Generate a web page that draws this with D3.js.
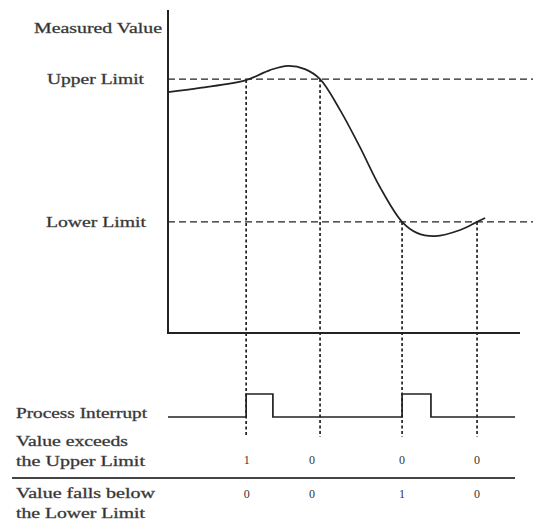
<!DOCTYPE html>
<html>
<head>
<meta charset="utf-8">
<script src="https://cdn.jsdelivr.net/npm/d3@7"></script>
<style>
  html, body { margin: 0; padding: 0; background: #fff; }
  svg { display: block; }
</style>
</head>
<body>
<svg id="chart" width="533" height="522"></svg>
<script>
// ---- data ----
const curveTime  = [0, 9.1, 22.2, 29.0, 34.1, 38.9, 43.2, 48.9, 54.5, 60.2, 66.5, 70.7, 75.9, 83.0, 87.8, 90.1];
const curveValue = [74.6, 75.9, 78.3, 81.4, 82.7, 81.7, 78.6, 69.0, 57.6, 45.2, 34.4, 31.0, 30.0, 31.9, 34.4, 35.6];

const limitNames  = ["Upper Limit", "Lower Limit"];
const limitValues = [78.6, 34.4];

const eventTimes  = [22.2, 43.2, 66.5, 87.8];
const eventValues = [78.3, 78.6, 34.4, 34.4];

const interruptTimes  = [0, 22.2, 29.8, 66.5, 74.7, 98.6];
const interruptStates = [0, 1, 0, 1, 0, 0];

const rowLabels = [["Value exceeds", "the Upper Limit"], ["Value falls below", "the Lower Limit"]];
const exceedsUpper   = [1, 0, 0, 0];
const fallsBelow     = [0, 0, 1, 0];
const valueLabelTimes = [22.4, 40.9, 66.5, 87.8];

// ---- layout ----
const svg = d3.select("#chart");
const x = d3.scaleLinear().domain([0, 100]).range([168, 520]);
const y = d3.scaleLinear().domain([0, 100]).range([333, 10]);
const sig = d3.scaleLinear().domain([0, 1]).range([417, 394]);
const ink = "#222";
const serif = "'Liberation Serif', 'Times New Roman', 'DejaVu Serif', serif";

function label(txt, px, py, size, len, anchor) {
  const t = svg.append("text")
    .attr("x", px).attr("y", py)
    .attr("font-family", serif)
    .attr("font-size", size)
    .attr("fill", "#2a2a2a")
    .attr("stroke", "#555").attr("stroke-width", 0.35)
    .attr("text-anchor", anchor || "start")
    .text(txt);
  if (len) t.attr("textLength", len).attr("lengthAdjust", "spacingAndGlyphs");
  return t;
}

// limit dashed lines
svg.selectAll("line.limit").data(limitValues).enter().append("line")
  .attr("x1", x(0)).attr("x2", x(104))
  .attr("y1", d => y(d)).attr("y2", d => y(d))
  .attr("stroke", ink).attr("stroke-width", 1.3)
  .attr("stroke-dasharray", "7,4");

// event dotted verticals
svg.selectAll("line.event").data(eventTimes).enter().append("line")
  .attr("x1", d => x(d)).attr("x2", d => x(d))
  .attr("y1", (d, i) => y(eventValues[i])).attr("y2", 437)
  .attr("stroke", ink).attr("stroke-width", 1.7)
  .attr("stroke-dasharray", "3,2.5");

// axes
svg.append("line").attr("x1", x(0)).attr("x2", x(0)).attr("y1", y(100)).attr("y2", y(0))
  .attr("stroke", ink).attr("stroke-width", 2);
svg.append("line").attr("x1", x(0) - 1).attr("x2", x(100)).attr("y1", y(0)).attr("y2", y(0))
  .attr("stroke", ink).attr("stroke-width", 2);

// measured curve
const line = d3.line().x((d, i) => x(curveTime[i])).y(d => y(d)).curve(d3.curveCatmullRom.alpha(0.5));
svg.append("path").datum(curveValue).attr("d", line)
  .attr("fill", "none").attr("stroke", ink).attr("stroke-width", 1.7);

// process interrupt signal
const step = d3.line().x((d, i) => x(interruptTimes[i])).y(d => sig(d)).curve(d3.curveStepAfter);
svg.append("path").datum(interruptStates).attr("d", step)
  .attr("fill", "none").attr("stroke", ink).attr("stroke-width", 1.7);

// table rule
svg.append("line").attr("x1", 12).attr("x2", 515).attr("y1", 478).attr("y2", 478)
  .attr("stroke", "#444").attr("stroke-width", 1.8);

// labels
label("Measured Value", 162, 33, 15, 128, "end");
const limitLabelX = [47, 46], limitLabelLen = [97, 100];
limitNames.forEach((n, i) => label(n, limitLabelX[i], y(limitValues[i]) + 5, 15, limitLabelLen[i]));
label("Process Interrupt", 16, 418, 14, 131);
label(rowLabels[0][0], 16, 446, 14, 112);
label(rowLabels[0][1], 16, 466, 14, 129);
label(rowLabels[1][0], 16, 498, 14, 139);
label(rowLabels[1][1], 16, 518, 14, 129);

// value rows
svg.selectAll("text.r1").data(exceedsUpper).enter().append("text")
  .attr("x", (d, i) => x(valueLabelTimes[i])).attr("y", 464)
  .attr("font-family", serif).attr("fill", "#333")
  .attr("text-anchor", "middle").attr("font-size", 12).text(d => d);
svg.selectAll("text.r2").data(fallsBelow).enter().append("text")
  .attr("x", (d, i) => x(valueLabelTimes[i])).attr("y", 498)
  .attr("font-family", serif).attr("fill", "#333")
  .attr("text-anchor", "middle").attr("font-size", 12).text(d => d);
</script>
</body>
</html>
